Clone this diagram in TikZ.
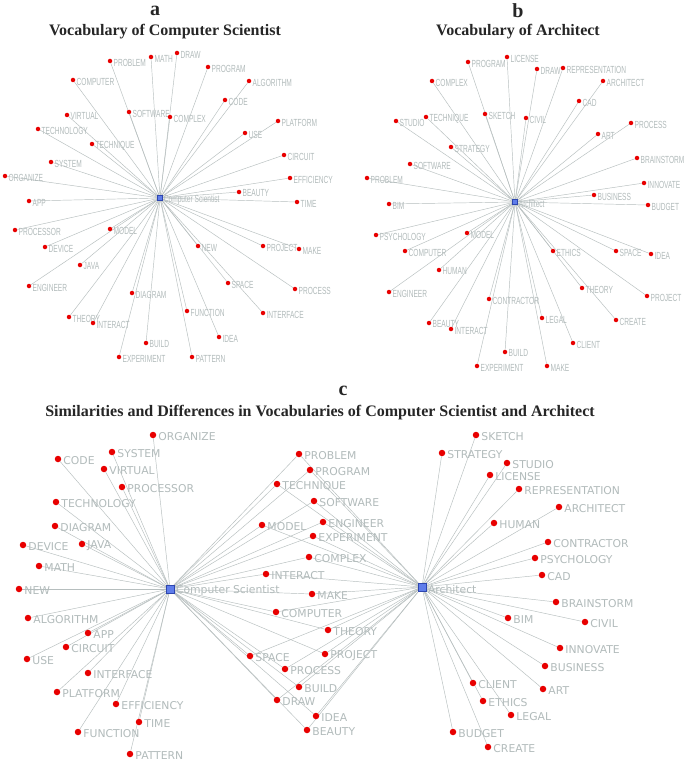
\documentclass[tikz,border=0pt]{standalone}
\usepackage{fontspec}
\setmainfont{Liberation Serif}
\newfontfamily\narrowsans[FakeStretch=0.64]{Liberation Sans}
\newfontfamily\widesans{DejaVu Sans}
\usetikzlibrary{positioning}
\pgfdeclarelayer{bg}
\pgfsetlayers{bg,main}
\definecolor{dotred}{RGB}{232,0,0}
\definecolor{hubblue}{RGB}{95,125,235}
\definecolor{hubedge}{RGB}{45,70,175}
\definecolor{wordgray}{RGB}{178,187,187}
\definecolor{edgegray}{RGB}{182,190,190}
\tikzset{
  smalldot/.style={circle, fill=dotred, inner sep=0pt, minimum size=4.5pt},
  bigdot/.style={circle, fill=dotred, inner sep=0pt, minimum size=6.5pt},
  smallhub/.style={draw=hubedge, fill=hubblue, inner sep=0pt, minimum size=5pt, line width=0.4pt},
  bighub/.style={draw=hubedge, fill=hubblue, inner sep=0pt, minimum size=7.5pt, line width=0.5pt},
  smallword/.style={text=wordgray, font=\fontsize{10.3}{11}\narrowsans, inner sep=0.5pt, yshift=-1.5pt},
  bigword/.style={text=wordgray, font=\fontsize{10.8}{12}\widesans, inner sep=0.8pt, yshift=-2pt},
  link/.style={draw=edgegray, line width=0.45pt},
  paneltag/.style={font=\fontsize{20}{22}\selectfont\bfseries, text=black!85},
  paneltitle/.style={font=\fontsize{16}{18}\selectfont\bfseries, text=black!85},
}

\begin{document}
\begin{tikzpicture}[x=1pt, y=-1pt]
\begin{pgfonlayer}{bg}
  \fill[white] (0,0) rectangle (685,765);
\end{pgfonlayer}
\useasboundingbox (0,0) rectangle (685,765);

% titles
\node[paneltag] (tag-a) at (155,11) {a};
\node[paneltitle] (title-a) at (165,32) {Vocabulary of Computer Scientist};
\node[paneltag] (tag-b) at (518,11) {b};
\node[paneltitle] (title-b) at (518,32) {Vocabulary of Architect};
\node[paneltag] (tag-c) at (343,391) {c};
\node[paneltitle] (title-c) at (320,413) {Similarities and Differences in Vocabularies of Computer Scientist and Architect};

% panel a
\node[smallhub] (acs) at (160,198) {};
\node[smallword, right=0.5pt of acs] (acs-lbl) {Computer Scientist};
\foreach \w/\x/\y in {PROBLEM/110/61, MATH/151/57, DRAW/177/53, PROGRAM/208/67,
    ALGORITHM/249/81, COMPUTER/73/80, CODE/225/100, SOFTWARE/129/112,
    COMPLEX/170/117, VIRTUAL/67/115, TECHNOLOGY/38/129, PLATFORM/278/121,
    USE/245/133, TECHNIQUE/92/144, CIRCUIT/284/155, SYSTEM/51/162,
    ORGANIZE/5/176, EFFICIENCY/290/178, BEAUTY/239/192, APP/29/201,
    TIME/297/202, PROCESSOR/15/230, MODEL/110/229, DEVICE/45/247,
    NEW/198/246, PROJECT/263/246, MAKE/299/249, JAVA/80/265,
    ENGINEER/29/286, SPACE/228/283, DIAGRAM/132/293, PROCESS/295/289,
    FUNCTION/187/311, INTERFACE/263/313, THEORY/69/317, INTERACT/93/323,
    IDEA/219/337, BUILD/146/343, EXPERIMENT/119/357, PATTERN/192/357} {
  \node[smalldot] (a-\w) at (\x,\y) {};
  \node[smallword, right=0.5pt of a-\w] {\w};
  \begin{pgfonlayer}{bg}
    \draw[link] (acs) -- (a-\w);
  \end{pgfonlayer}
}

% panel b
\node[smallhub] (bar) at (515,202) {};
\node[smallword, right=0.5pt of bar] (bar-lbl) {Architect};
\foreach \w/\x/\y in {PROGRAM/468/62, LICENSE/507/57, DRAW/537/69,
    REPRESENTATION/563/68, COMPLEX/432/81, ARCHITECT/603/81, CAD/579/101,
    SKETCH/485/114, TECHNIQUE/426/117, CIVIL/526/118, STUDIO/396/121,
    PROCESS/631/123, ART/598/134, STRATEGY/451/147, BRAINSTORM/637/158,
    SOFTWARE/410/164, PROBLEM/367/178, INNOVATE/644/183, BUSINESS/594/195,
    BIM/389/204, BUDGET/648/205, MODEL/467/233, PSYCHOLOGY/376/235,
    COMPUTER/405/251, ETHICS/553/251, SPACE/616/251, IDEA/651/254,
    HUMAN/439/270, THEORY/582/288, ENGINEER/389/292, PROJECT/647/296,
    CONTRACTOR/489/299, LEGAL/542/318, CREATE/616/320, BEAUTY/429/323,
    INTERACT/451/329, CLIENT/573/343, BUILD/505/352, EXPERIMENT/477/366,
    MAKE/547/366} {
  \node[smalldot] (b-\w) at (\x,\y) {};
  \node[smallword, right=0.5pt of b-\w] {\w};
  \begin{pgfonlayer}{bg}
    \draw[link] (bar) -- (b-\w);
  \end{pgfonlayer}
}

% panel c
\node[bighub] (ccs) at (170,589) {};
\node[bigword, right=1pt of ccs] (ccs-lbl) {Computer Scientist};
\node[bighub] (car) at (422,587) {};
\node[bigword, right=1pt of car] (car-lbl) {Architect};
% computer scientist only
\foreach \w/\x/\y in {ORGANIZE/153/435, SYSTEM/112/452, CODE/58/459,
    VIRTUAL/104/469, PROCESSOR/122/487, TECHNOLOGY/56/502, DIAGRAM/55/526,
    JAVA/82/544, DEVICE/23/545, MATH/39/566, NEW/19/589, ALGORITHM/28/618,
    APP/88/633, CIRCUIT/66/647, USE/27/659, INTERFACE/88/673,
    PLATFORM/57/692, EFFICIENCY/116/704, TIME/139/722, FUNCTION/78/732,
    PATTERN/130/754} {
  \node[bigdot] (c-\w) at (\x,\y) {};
  \node[bigword, right=1pt of c-\w] {\w};
  \begin{pgfonlayer}{bg}
    \draw[link] (ccs) -- (c-\w);
  \end{pgfonlayer}
}
% shared
\foreach \w/\x/\y in {PROBLEM/299/454, PROGRAM/310/470, TECHNIQUE/277/484,
    SOFTWARE/314/501, ENGINEER/323/522, MODEL/262/525, EXPERIMENT/313/536,
    COMPLEX/309/557, INTERACT/266/574, MAKE/312/594, COMPUTER/276/612,
    THEORY/328/630, PROJECT/325/654, SPACE/250/656, PROCESS/285/669,
    BUILD/299/687, DRAW/277/700, IDEA/316/716, BEAUTY/307/730} {
  \node[bigdot] (c-\w) at (\x,\y) {};
  \node[bigword, right=1pt of c-\w] {\w};
  \begin{pgfonlayer}{bg}
    \draw[link] (ccs) -- (c-\w);
    \draw[link] (car) -- (c-\w);
  \end{pgfonlayer}
}
% architect only
\foreach \w/\x/\y in {SKETCH/476/435, STRATEGY/442/453, STUDIO/507/463,
    LICENSE/490/475, REPRESENTATION/519/489, ARCHITECT/559/507,
    HUMAN/494/523, CONTRACTOR/548/542, PSYCHOLOGY/535/558, CAD/542/575,
    BRAINSTORM/556/602, BIM/508/618, CIVIL/585/622, INNOVATE/560/648,
    BUSINESS/545/666, CLIENT/473/683, ART/543/689, ETHICS/483/701,
    LEGAL/511/715, BUDGET/453/732, CREATE/488/747} {
  \node[bigdot] (c-\w) at (\x,\y) {};
  \node[bigword, right=1pt of c-\w] {\w};
  \begin{pgfonlayer}{bg}
    \draw[link] (car) -- (c-\w);
  \end{pgfonlayer}
}
\end{tikzpicture}
\end{document}
